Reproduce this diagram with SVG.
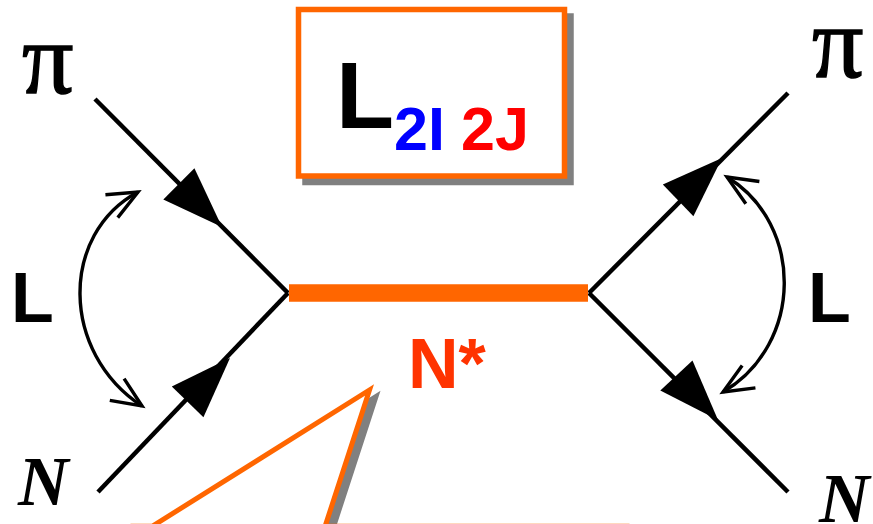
<svg xmlns="http://www.w3.org/2000/svg" xmlns:xlink="http://www.w3.org/1999/xlink" width="873" height="524" viewBox="0 0 873 524">
  <style>
    .sans { font-family: "Liberation Sans", Arial, sans-serif; font-weight: bold; }
    .serif { font-family: "Liberation Serif", "Times New Roman", serif; }
    .pi { stroke: #000; stroke-width: 1.4; }
    .line { stroke: #000; stroke-width: 4.5; fill: none; }
    .arc { stroke: #000; stroke-width: 3.4; fill: none; marker-start: url(#open); marker-end: url(#open); }
  </style>
  <defs>
    <path id="ah" d="M0,0 L-61,-22 L-61,22 Z" fill="#000"/>
    <marker id="open" markerUnits="userSpaceOnUse" markerWidth="40" markerHeight="40" viewBox="-34 -20 40 40" refX="0" refY="0" orient="auto-start-reverse" overflow="visible">
      <path d="M-30,-13 L0,0 L-30,13" fill="none" stroke="#000" stroke-width="3.4" stroke-linejoin="miter"/>
    </marker>
  </defs>

  <!-- callout (partially visible) -->
  <g id="callout">
    <path d="M133,526.2 L152.4,526.2 L369.5,390 L325.1,526.2 L627,526.2 L627,620 L133,620 Z" fill="#808080" stroke="#808080" stroke-width="5" transform="translate(6.5,6.5)"/>
    <path d="M133,526.2 L152.4,526.2 L369.5,390 L325.1,526.2 L627,526.2 L627,620 L133,620 Z" fill="#fff" stroke="#FF6600" stroke-width="5"/>
  </g>

  <!-- box L_{2I 2J} -->
  <g id="box">
    <rect x="305" y="16" width="266" height="166.5" fill="#808080" stroke="#808080" stroke-width="5.5"/>
    <rect x="298.5" y="9.5" width="266" height="166.5" fill="#fff" stroke="#FF6600" stroke-width="5.5"/>
    <text class="sans" x="336" y="128" font-size="95" fill="#000">L</text>
    <text class="sans" x="394" y="150" font-size="61" fill="#0000FF">2I</text>
    <text class="sans" x="461" y="150" font-size="61" fill="#FF0000">2J</text>
  </g>

  <!-- connectors -->
  <g id="connectors">
    <line class="line" x1="95" y1="99" x2="288" y2="293"/>
    <line class="line" x1="288" y1="293" x2="98" y2="492"/>
    <line class="line" x1="589" y1="293" x2="788" y2="93"/>
    <line class="line" x1="589" y1="293" x2="788" y2="492"/>
    <line x1="289" y1="293" x2="588" y2="293" stroke="#FF6600" stroke-width="17.5"/>
    <use xlink:href="#ah" transform="translate(222,227) rotate(45)"/>
    <use xlink:href="#ah" transform="translate(230,358) rotate(-46)"/>
    <use xlink:href="#ah" transform="translate(722,158) rotate(-44)"/>
    <use xlink:href="#ah" transform="translate(718,420) rotate(47)"/>
    <path class="arc" d="M138,192 C60,234 60,352 142,406"/>
    <path class="arc" d="M727,177 C804,224 804,344 723,392"/>
  </g>

  <g id="pi-in"><text class="serif pi" x="22" y="93" font-size="102" fill="#000">π</text></g>
  <g id="pi-out"><text class="serif pi" x="812" y="77" font-size="102" fill="#000">π</text></g>
  <g id="n-in"><text class="serif" x="18" y="505" font-size="70" font-weight="bold" font-style="italic" fill="#000">N</text></g>
  <g id="n-out"><text class="serif" x="819" y="522" font-size="70" font-weight="bold" font-style="italic" fill="#000">N</text></g>
  <g id="l-left"><text class="sans" x="11" y="322" font-size="70" fill="#000">L</text></g>
  <g id="l-right"><text class="sans" x="808" y="322" font-size="70" fill="#000">L</text></g>
  <g id="nstar"><text class="sans" x="408" y="388" font-size="70" fill="#FF3300">N*</text></g>
</svg>
